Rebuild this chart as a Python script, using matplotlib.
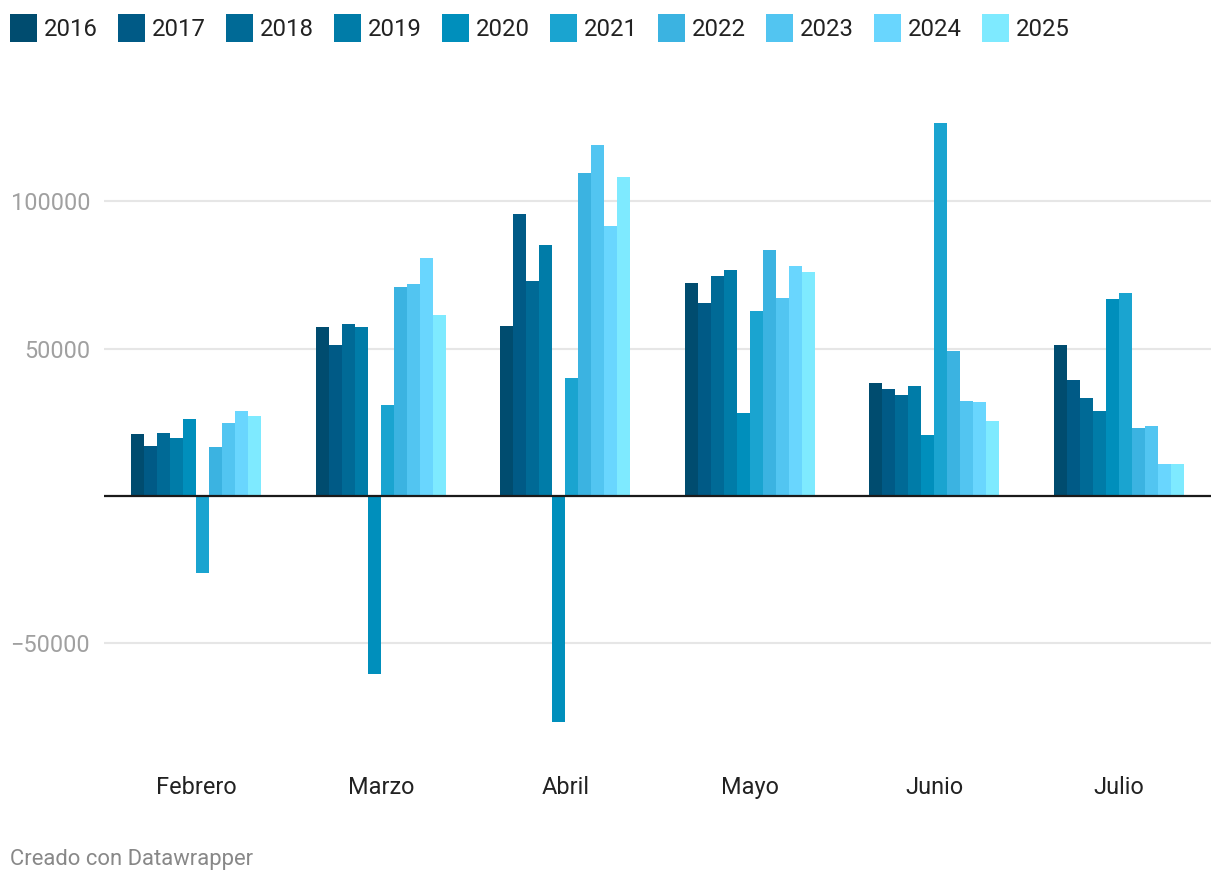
import matplotlib
matplotlib.use("Agg")
import matplotlib.pyplot as plt
import numpy as np
from matplotlib.patches import Rectangle

plt.rcParams['font.family'] = ['Roboto', 'DejaVu Sans']

months = ["Febrero", "Marzo", "Abril", "Mayo", "Junio", "Julio"]
years = ["2016", "2017", "2018", "2019", "2020", "2021", "2022", "2023", "2024", "2025"]
colors = ["#004c6f", "#005a86", "#006a96", "#007ca8", "#008fbc", "#1aa4d0",
          "#3bb3e1", "#52c5f1", "#69d6fe", "#7eeaff"]

v2016 = [20900, 57200, 57600, 72200, 38300, 51100]
v2017 = [16800, 51400, 95600, 65400, 36200, 39200]
v2018 = [21200, 58500, 72900, 74600, 34200, 33400]
v2019 = [19500, 57200, 85100, 76600, 37300, 29000]
v2020 = [26000, -60600, -76900, 28100, 20600, 66800]
v2021 = [-26200, 31000, 40200, 62700, 126600, 68800]
v2022 = [16500, 71100, 109500, 83400, 49200, 22900]
v2023 = [24900, 71800, 119300, 67100, 32200, 23600]
v2024 = [29000, 80900, 91600, 78000, 31800, 11000]
v2025 = [27000, 61300, 108200, 75900, 25400, 11000]
series = [v2016, v2017, v2018, v2019, v2020, v2021, v2022, v2023, v2024, v2025]

W, H = 1220, 882
fig = plt.figure(figsize=(W / 100, H / 100), dpi=100)
ax = fig.add_axes([104 / W, 1 - 761 / H, (1211 - 104) / W, (761 - 98.3) / H])

x = np.arange(len(months))
bw = 13 / 184.4
for i, (vals, c) in enumerate(zip(series, colors)):
    ax.bar(x + (i - 4.5) * bw, vals, width=bw, color=c, linewidth=0, zorder=2)

ax.set_xlim(-0.5, 5.5)
ax.set_ylim(-90000, 135000)
for g in [-50000, 50000, 100000]:
    ax.axhline(g, color="#e6e6e6", lw=1.5, zorder=1)
ax.axhline(0, color="#1a1a1a", lw=1.6, zorder=3)

for s in ax.spines.values():
    s.set_visible(False)
ax.set_yticks([-50000, 50000, 100000])
ax.set_yticklabels(["\u221250000", "50000", "100000"])
ax.tick_params(axis='y', length=0, pad=10, labelsize=16.9, labelcolor="#a0a0a0")
ax.set_xticks(x)
ax.set_xticklabels(months)
ax.tick_params(axis='x', length=0, pad=11, labelsize=16.9, labelcolor="#222222")

# legend
for i, (yr, c) in enumerate(zip(years, colors)):
    x0 = 10 + i * 108
    fig.patches.append(Rectangle((x0 / W, 1 - 42 / H), 27 / W, 28 / H,
                                 transform=fig.transFigure, color=c, lw=0))
    fig.text((x0 + 34) / W, 1 - 29.5 / H, yr, fontsize=17.2, color="#222222",
             va="center", ha="left")

fig.text(10 / W, 1 - 859 / H, "Creado con Datawrapper", fontsize=15.8,
         color="#888888", va="center", ha="left")

fig.savefig("out.png", dpi=100, facecolor="white")
